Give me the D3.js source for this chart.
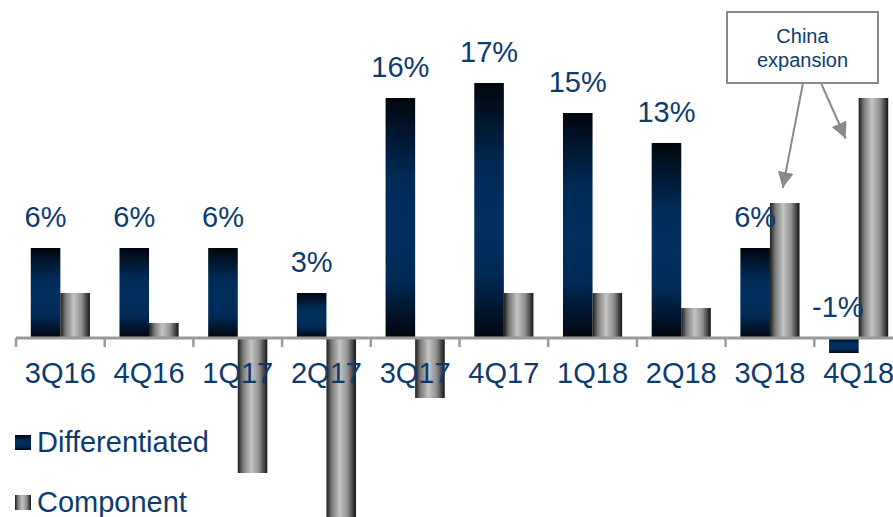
<!DOCTYPE html>
<html>
<head>
<meta charset="utf-8">
<script src="https://cdn.jsdelivr.net/npm/d3@7"></script>
<style>
  html, body { margin: 0; padding: 0; background: #fff; }
  svg { display: block; }
  text { font-family: "Liberation Sans", Arial, sans-serif; }
</style>
</head>
<body>
<svg id="chart" width="893" height="517"></svg>
<script>
// Quarterly growth, in percent
const quarters = ["3Q16", "4Q16", "1Q17", "2Q17", "3Q17", "4Q17", "1Q18", "2Q18", "3Q18", "4Q18"];
const differentiated = [6, 6, 6, 3, 16, 17, 15, 13, 6, -1];
const component = [3, 1, -9, -12, -4, 3, 3, 2, 9, 16];
const seriesNames = ["Differentiated", "Component"];
const calloutLines = ["China", "expansion"];

const W = 893, H = 517;
const textColor = "#0e3b6e";
const axisColor = "#9a9a9a";
const fontSize = 29;

const svg = d3.select("#chart");
const defs = svg.append("defs");

// Navy bars: dark at top and bottom, blue in the middle
const gDiff = defs.append("linearGradient").attr("id", "gradDiff")
  .attr("x1", 0).attr("y1", 0).attr("x2", 0).attr("y2", 1);
[[0, "#01060d"], [0.33, "#002a56"], [0.55, "#00305f"], [0.75, "#002a56"], [1, "#01060d"]]
  .forEach(([o, c]) => gDiff.append("stop").attr("offset", o).attr("stop-color", c));

// Grey bars: cylinder shading from side to side
const gComp = defs.append("linearGradient").attr("id", "gradComp")
  .attr("x1", 0).attr("y1", 0).attr("x2", 1).attr("y2", 0);
[[0, "#1c1c1c"], [0.18, "#7a7a7a"], [0.45, "#c4c4c4"], [0.72, "#8f8f8f"], [1, "#141414"]]
  .forEach(([o, c]) => gComp.append("stop").attr("offset", o).attr("stop-color", c));

// Scales
const x0 = d3.scaleBand().domain(quarters).range([16, 16 + 88.7 * quarters.length]).paddingInner(0).paddingOuter(0);
const x1 = d3.scaleBand().domain(seriesNames).range([0, x0.bandwidth()]).paddingInner(0).paddingOuter(0.5);
const y = d3.scaleLinear().domain([-12, 17]).range([518, 83]);

const rows = quarters.map((q, i) => ({ q, vals: [differentiated[i], component[i]] }));
const pct = v => (v < 0 ? "-" : "") + Math.abs(v) + "%";

// Bars
const groups = svg.append("g").selectAll("g").data(rows).join("g")
  .attr("transform", d => `translate(${x0(d.q)},0)`);

groups.selectAll("rect").data(d => d.vals.map((v, k) => ({ v, s: seriesNames[k] }))).join("rect")
  .attr("x", d => x1(d.s))
  .attr("width", x1.bandwidth())
  .attr("y", d => y(Math.max(d.v, 0)))
  .attr("height", d => Math.abs(y(d.v) - y(0)))
  .attr("fill", d => d.s === "Differentiated" ? "url(#gradDiff)" : "url(#gradComp)");

// Category axis
const axisG = svg.append("g");
axisG.append("line")
  .attr("x1", x0.range()[0]).attr("x2", W)
  .attr("y1", y(0)).attr("y2", y(0))
  .attr("stroke", axisColor).attr("stroke-width", 3);
axisG.selectAll("line.tick").data(quarters).join("line").attr("class", "tick")
  .attr("x1", d => x0(d)).attr("x2", d => x0(d))
  .attr("y1", y(0)).attr("y2", y(0) + 9)
  .attr("stroke", axisColor).attr("stroke-width", 2.5);
axisG.selectAll("text").data(quarters).join("text")
  .attr("x", d => x0(d) + x0.bandwidth() / 2)
  .attr("y", y(0) + 45)
  .attr("text-anchor", "middle")
  .attr("font-size", fontSize)
  .attr("fill", textColor)
  .text(d => d);

// Value labels for the Differentiated series
svg.append("g").selectAll("text").data(rows).join("text")
  .attr("x", d => x0(d.q) + x1("Differentiated") + x1.bandwidth() / 2 - (d.vals[0] < 0 ? 6 : 0))
  .attr("y", d => y(Math.max(d.vals[0], 0)) - 21)
  .attr("text-anchor", "middle")
  .attr("font-size", fontSize)
  .attr("fill", textColor)
  .text(d => pct(d.vals[0]));

// Legend
const legend = svg.append("g");
seriesNames.forEach((name, i) => {
  const ly = 452 + i * 60;
  legend.append("rect")
    .attr("x", 15).attr("y", ly - 17).attr("width", 16).attr("height", 15)
    .attr("fill", i === 0 ? "url(#gradDiff)" : "url(#gradComp)");
  legend.append("text")
    .attr("x", 37).attr("y", ly)
    .attr("font-size", fontSize)
    .attr("fill", textColor)
    .text(name);
});

// Callout with arrows to the two latest Component bars
const box = { x: 727, y: 12, w: 151, h: 71 };
defs.append("marker").attr("id", "arrowHead")
  .attr("viewBox", "0 0 10 10").attr("refX", 10).attr("refY", 5)
  .attr("markerUnits", "userSpaceOnUse")
  .attr("markerWidth", 16).attr("markerHeight", 16)
  .attr("orient", "auto")
  .append("path").attr("d", "M0,0 L10,5 L0,10 Z").attr("fill", "#8a8a8a");

const c3 = x0("3Q18") + x1("Component") + x1.bandwidth() / 2;
const c4 = x0("4Q18") + x1("Component");
const arrows = [
  { x1: 803, y1: box.y + box.h, x2: c3 - 2, y2: y(component[8]) - 15 },
  { x1: 821, y1: box.y + box.h, x2: c4 - 13, y2: y(13.3) }
];
svg.append("g").selectAll("line").data(arrows).join("line")
  .attr("x1", d => d.x1).attr("y1", d => d.y1)
  .attr("x2", d => d.x2).attr("y2", d => d.y2)
  .attr("stroke", "#8a8a8a").attr("stroke-width", 2)
  .attr("marker-end", "url(#arrowHead)");

svg.append("rect")
  .attr("x", box.x).attr("y", box.y).attr("width", box.w).attr("height", box.h)
  .attr("fill", "#fff").attr("stroke", "#8a8a8a").attr("stroke-width", 2);
svg.append("g").selectAll("text").data(calloutLines).join("text")
  .attr("x", box.x + box.w / 2)
  .attr("y", (d, i) => 43 + i * 24)
  .attr("text-anchor", "middle")
  .attr("font-size", 20)
  .attr("fill", textColor)
  .text(d => d);
</script>
</body>
</html>
